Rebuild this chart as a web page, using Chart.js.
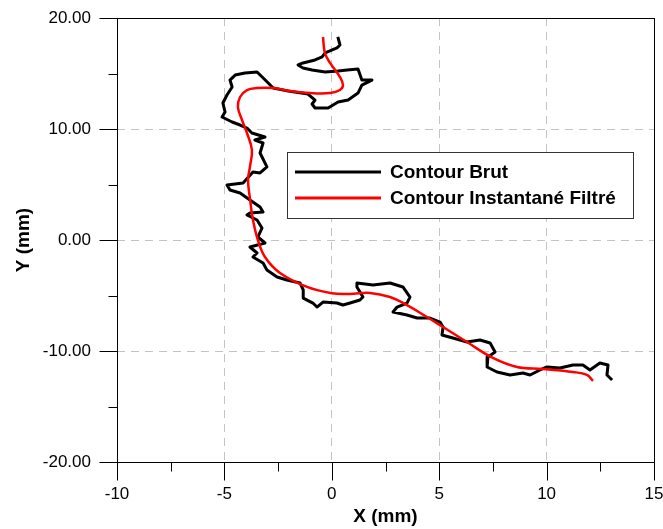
<!DOCTYPE html>
<html>
<head>
<meta charset="utf-8">
<script src="https://cdn.jsdelivr.net/npm/chart.js@4.4.1/dist/chart.umd.min.js"></script>
<style>
  html, body { margin: 0; padding: 0; background: #fff; }
  #wrap { width: 663px; height: 529px; }
</style>
</head>
<body>
<div id="wrap"><canvas id="chart" width="663" height="529"></canvas></div>
<script>
// noms des séries
const seriesNames = ['Contour Brut', 'Contour Instantané Filtré'];

// contour brut
const brutX = [0.28, 0.38, 0.24, -0.31, -0.45, -0.78, -1.34, -1.57, -1.34, -0.92, -0.31, 0.29, 0.71, 1.22, 1.40, 1.87, 1.40, 1.22, 0.76, 0.29, -0.17, -0.78, -0.92, -0.78, -1.11,
  -2.03, -2.73, -2.96, -3.24, -3.48, -4.04, -4.50, -4.74, -4.64, -4.88, -5.07, -4.97, -5.11, -4.64, -4.27, -3.95, -3.72, -3.11, -3.58,
  -3.20, -3.34, -3.02, -3.34, -3.67, -4.13, -4.88, -4.74, -4.27, -3.81, -3.34, -3.20, -3.81, -3.95, -3.48, -3.25, -3.44,
  -3.11, -3.81, -3.48, -3.67, -3.20, -3.02, -2.55, -2.09, -1.48, -1.33, -1.33, -0.88, -0.69, -0.41, 0.24, 0.52, 0.85,
  1.31, 1.45, 1.17, 1.17, 1.92, 2.71, 3.31, 3.64, 3.50, 3.04, 2.85, 3.50, 3.97, 4.57, 5.04, 5.18, 5.13, 5.64, 6.29,
  6.90, 7.37, 7.60, 7.27, 7.23, 7.69, 8.30, 8.90, 9.23, 9.69, 10.02, 10.62, 11.23, 11.69, 12.02, 12.48, 12.86, 12.81, 13.05];
const brutY = [18.29, 17.57, 17.30, 16.85, 16.49, 16.22, 15.95, 15.77, 15.50, 15.32, 15.14, 15.23, 15.32, 15.41, 14.41, 14.41, 13.96, 13.24, 12.61, 12.43, 11.89, 11.89, 12.25, 12.61, 13.15,
  13.42, 13.69, 14.14, 14.68, 15.14, 15.05, 14.86, 14.41, 13.78, 13.06, 12.34, 11.53, 11.08, 10.63, 10.36, 10.09, 9.64, 9.28, 9.01,
  8.74, 7.84, 6.58, 6.04, 6.13, 5.14, 4.95, 4.50, 4.23, 3.60, 2.97, 2.52, 2.43, 2.25, 1.80, 1.08, 0.27,
  -0.27, -0.63, -1.17, -1.53, -2.07, -2.70, -3.33, -3.60, -3.87, -4.50, -5.23, -5.68, -6.04, -5.59, -5.68, -5.86, -5.68,
  -5.41, -5.14, -4.23, -3.87, -4.05, -3.87, -4.23, -5.14, -5.68, -6.04, -6.49, -6.76, -7.03, -7.03, -7.39, -7.84, -8.56, -8.83, -9.19,
  -9.01, -9.28, -10.09, -10.54, -11.44, -11.89, -12.16, -11.98, -12.16, -11.71, -11.44, -11.53, -11.26, -11.26, -11.71, -11.08, -11.26, -12.16, -12.61];

// contour filtré
const filtreX = [-0.41, -0.32, -0.08, 0.38, 0.52, 0.38, -0.08, -1.01, -1.95, -2.74, -3.48, -3.95, -4.27, -4.37, -4.18, -3.95, -3.72,
  -3.81, -3.90, -3.80, -3.67, -3.44, -3.11, -2.41, -1.15, 0.00, 0.85, 1.78, 2.71, 3.50, 4.43, 5.03, 6.29, 7.50, 8.62, 9.83, 11.23, 11.88, 12.16];
const filtreY = [18.29, 16.85, 15.95, 14.68, 13.96, 13.51, 13.24, 13.24, 13.42, 13.69, 13.69, 13.51, 12.88, 11.98, 10.81, 9.64, 8.11,
  6.60, 5.40, 3.60, 1.80, 0.00, -1.53, -2.97, -4.23, -4.80, -4.86, -4.77, -5.14, -5.86, -6.94, -7.66, -9.19, -10.63, -11.44, -11.62, -11.89, -12.16, -12.70];

// graduations
const xMajor = [-10, -5, 0, 5, 10, 15];
const xMinor = [-7.5, -2.5, 2.5, 7.5, 12.5];
const yMajor = [-20, -10, 0, 10, 20];
const yMinor = [-15, -5, 5, 15];

const police = "'Liberation Sans', Arial, sans-serif";

function pts(xs, ys) {
  return xs.map((v, i) => ({ x: v, y: ys[i] }));
}

// cadre, graduations et légende dessinés à la main
const decor = {
  id: 'decor',
  afterDraw(chart) {
    const { ctx, chartArea: a, scales: { x, y } } = chart;
    ctx.save();
    ctx.strokeStyle = '#000';
    ctx.lineWidth = 1;
    ctx.strokeRect(Math.round(a.left) + 0.5, Math.round(a.top) + 0.5, Math.round(a.right - a.left), Math.round(a.bottom - a.top));

    const bas = Math.round(a.bottom) + 0.5;
    const gauche = Math.round(a.left) + 0.5;
    ctx.beginPath();
    xMajor.forEach(v => { const p = Math.round(x.getPixelForValue(v)) + 0.5; ctx.moveTo(p, bas); ctx.lineTo(p, bas + 18); });
    xMinor.forEach(v => { const p = Math.round(x.getPixelForValue(v)) + 0.5; ctx.moveTo(p, bas); ctx.lineTo(p, bas + 9); });
    yMajor.forEach(v => { const p = Math.round(y.getPixelForValue(v)) + 0.5; ctx.moveTo(gauche, p); ctx.lineTo(gauche - 18, p); });
    yMinor.forEach(v => { const p = Math.round(y.getPixelForValue(v)) + 0.5; ctx.moveTo(gauche, p); ctx.lineTo(gauche - 9, p); });
    ctx.stroke();

    // légende
    const lx = a.left + 170, ly = a.top + 134, lw = 346, lh = 66;
    ctx.fillStyle = '#fff';
    ctx.fillRect(lx, ly, lw, lh);
    ctx.strokeStyle = '#333';
    ctx.strokeRect(lx + 0.5, ly + 0.5, lw, lh);
    ctx.font = 'bold 19px ' + police;
    ctx.textBaseline = 'middle';
    chart.data.datasets.forEach((ds, i) => {
      const ry = ly + 20 + i * 26;
      ctx.strokeStyle = ds.borderColor;
      ctx.lineWidth = 3;
      ctx.beginPath();
      ctx.moveTo(lx + 8, ry);
      ctx.lineTo(lx + 94, ry);
      ctx.stroke();
      ctx.fillStyle = '#000';
      ctx.fillText(ds.label, lx + 103, ry + 1);
    });
    ctx.restore();
  }
};

const grille = ctx => {
  const s = ctx.scale;
  if (!ctx.tick || ctx.tick.value === s.min || ctx.tick.value === s.max) return 'rgba(0,0,0,0)';
  return '#c4c4c4';
};

new Chart(document.getElementById('chart'), {
  type: 'scatter',
  data: {
    datasets: [{
      label: seriesNames[0],
      data: pts(brutX, brutY),
      showLine: true,
      borderColor: '#000000',
      borderWidth: 3,
      borderJoinStyle: 'round',
      pointRadius: 0,
      tension: 0,
      order: 1
    }, {
      label: seriesNames[1],
      data: pts(filtreX, filtreY),
      showLine: true,
      borderColor: '#ff0000',
      borderWidth: 2.5,
      pointRadius: 0,
      tension: 0.4,
      order: 0
    }]
  },
  options: {
    responsive: false,
    devicePixelRatio: 1,
    animation: false,
    layout: { padding: { top: 18, right: 9, left: 0, bottom: 0 } },
    plugins: { legend: { display: false }, tooltip: { enabled: false } },
    scales: {
      x: {
        type: 'linear',
        min: -10, max: 15,
        afterFit: s => { s.height = 67; s.paddingLeft = 0; s.paddingRight = 0; },
        border: { display: false, dash: [8, 6] },
        grid: { color: grille, drawTicks: false, lineWidth: 1 },
        ticks: { stepSize: 5, padding: 22, color: '#000', font: { family: police, size: 17 }, maxRotation: 0 },
        title: { display: true, text: 'X (mm)', color: '#000', font: { family: police, size: 19, weight: 'bold' }, padding: { top: 0, bottom: 1 } }
      },
      y: {
        type: 'linear',
        min: -20, max: 20,
        afterFit: s => { s.width = 117; s.paddingTop = 0; s.paddingBottom = 0; },
        border: { display: false, dash: [8, 6] },
        grid: { color: grille, drawTicks: false, lineWidth: 1 },
        ticks: { stepSize: 10, padding: 26, color: '#000', font: { family: police, size: 17 }, callback: v => v.toFixed(2) },
        title: { display: true, text: 'Y (mm)', color: '#000', font: { family: police, size: 19, weight: 'bold' }, padding: { top: 12, bottom: 0 } }
      }
    }
  },
  plugins: [decor]
});
</script>
</body>
</html>
